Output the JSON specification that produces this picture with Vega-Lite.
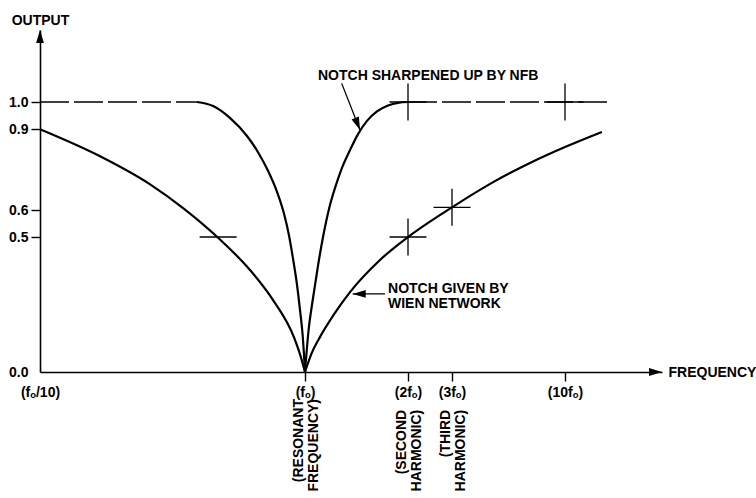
{
  "$schema": "https://vega.github.io/schema/vega-lite/v6.json",
  "width": 622,
  "height": 342,
  "autosize": {"type": "none"},
  "padding": {"left": 40, "top": 30, "right": 94, "bottom": 126},
  "background": "white",
  "config": {
    "view": {"stroke": null},
    "font": "Liberation Sans",
    "axis": {
      "grid": false,
      "domainColor": "black",
      "domainWidth": 1.6,
      "tickColor": "black",
      "tickWidth": 1.4,
      "tickSize": 9,
      "labelColor": "black",
      "labelFont": "Liberation Sans",
      "labelFontSize": 14,
      "labelFontWeight": "bold",
      "titleColor": "black",
      "titleFont": "Liberation Sans",
      "titleFontSize": 14,
      "titleFontWeight": "bold"
    }
  },
  "datasets": {
    "curves": [
      {"curve": "wien", "branch": "wl", "freq": 0.1, "output": 0.899},
      {"curve": "wien", "branch": "wl", "freq": 0.304, "output": 0.799},
      {"curve": "wien", "branch": "wl", "freq": 0.474, "output": 0.695},
      {"curve": "wien", "branch": "wl", "freq": 0.586, "output": 0.607},
      {"curve": "wien", "branch": "wl", "freq": 0.705, "output": 0.497},
      {"curve": "wien", "branch": "wl", "freq": 0.813, "output": 0.378},
      {"curve": "wien", "branch": "wl", "freq": 0.891, "output": 0.267},
      {"curve": "wien", "branch": "wl", "freq": 0.963, "output": 0.127},
      {"curve": "wien", "branch": "wl", "freq": 0.986, "output": 0.055},
      {"curve": "wien", "branch": "wl", "freq": 1.0, "output": 0.0},
      {"curve": "wien", "branch": "wr", "freq": 1.0, "output": 0.0},
      {"curve": "wien", "branch": "wr", "freq": 1.065, "output": 0.07},
      {"curve": "wien", "branch": "wr", "freq": 1.146, "output": 0.13},
      {"curve": "wien", "branch": "wr", "freq": 1.291, "output": 0.219},
      {"curve": "wien", "branch": "wr", "freq": 1.437, "output": 0.296},
      {"curve": "wien", "branch": "wr", "freq": 1.728, "output": 0.415},
      {"curve": "wien", "branch": "wr", "freq": 2.0, "output": 0.5},
      {"curve": "wien", "branch": "wr", "freq": 3.0, "output": 0.61},
      {"curve": "wien", "branch": "wr", "freq": 5.66, "output": 0.707},
      {"curve": "wien", "branch": "wr", "freq": 7.83, "output": 0.774},
      {"curve": "wien", "branch": "wr", "freq": 10.0, "output": 0.833},
      {"curve": "wien", "branch": "wr", "freq": 13.81, "output": 0.889},
      {"curve": "nfb", "branch": "nl", "freq": 0.633, "output": 1.0},
      {"curve": "nfb", "branch": "nl", "freq": 0.688, "output": 0.985},
      {"curve": "nfb", "branch": "nl", "freq": 0.745, "output": 0.941},
      {"curve": "nfb", "branch": "nl", "freq": 0.803, "output": 0.874},
      {"curve": "nfb", "branch": "nl", "freq": 0.84, "output": 0.815},
      {"curve": "nfb", "branch": "nl", "freq": 0.874, "output": 0.746},
      {"curve": "nfb", "branch": "nl", "freq": 0.905, "output": 0.667},
      {"curve": "nfb", "branch": "nl", "freq": 0.929, "output": 0.585},
      {"curve": "nfb", "branch": "nl", "freq": 0.946, "output": 0.504},
      {"curve": "nfb", "branch": "nl", "freq": 0.959, "output": 0.422},
      {"curve": "nfb", "branch": "nl", "freq": 0.973, "output": 0.322},
      {"curve": "nfb", "branch": "nl", "freq": 0.983, "output": 0.23},
      {"curve": "nfb", "branch": "nl", "freq": 0.992, "output": 0.137},
      {"curve": "nfb", "branch": "nl", "freq": 1.0, "output": 0.0},
      {"curve": "nfb", "branch": "nr", "freq": 1.0, "output": 0.0},
      {"curve": "nfb", "branch": "nr", "freq": 1.034, "output": 0.152},
      {"curve": "nfb", "branch": "nr", "freq": 1.078, "output": 0.274},
      {"curve": "nfb", "branch": "nr", "freq": 1.126, "output": 0.393},
      {"curve": "nfb", "branch": "nr", "freq": 1.175, "output": 0.5},
      {"curve": "nfb", "branch": "nr", "freq": 1.233, "output": 0.604},
      {"curve": "nfb", "branch": "nr", "freq": 1.291, "output": 0.681},
      {"curve": "nfb", "branch": "nr", "freq": 1.359, "output": 0.756},
      {"curve": "nfb", "branch": "nr", "freq": 1.437, "output": 0.822},
      {"curve": "nfb", "branch": "nr", "freq": 1.515, "output": 0.881},
      {"curve": "nfb", "branch": "nr", "freq": 1.602, "output": 0.93},
      {"curve": "nfb", "branch": "nr", "freq": 1.699, "output": 0.965},
      {"curve": "nfb", "branch": "nr", "freq": 1.806, "output": 0.987},
      {"curve": "nfb", "branch": "nr", "freq": 1.903, "output": 0.997},
      {"curve": "nfb", "branch": "nr", "freq": 2.0, "output": 1.0}
    ],
    "dashed": [
      {"segment": "a", "freq": 0.1, "output": 1.0},
      {"segment": "a", "freq": 0.633, "output": 1.0},
      {"segment": "b", "freq": 2.0, "output": 1.0},
      {"segment": "b", "freq": 14.85, "output": 1.0}
    ],
    "crosses": [
      {"freq": 2, "output": 0.5},
      {"freq": 3, "output": 0.61},
      {"freq": 2, "output": 1.0},
      {"freq": 10, "output": 1.0}
    ],
    "hmarks": [
      {"freq": 0.705, "output": 0.5}
    ],
    "pointers": [
      {"name": "nfb", "freq": 1.356, "output": 1.069, "freq2": 1.534, "output2": 0.896},
      {"name": "wien", "freq": 1.777, "output": 0.289, "freq2": 1.463, "output2": 0.289}
    ],
    "notes": [
      {"label": "NOTCH SHARPENED UP BY NFB", "freq": 1.126, "output": 1.081},
      {"label": "NOTCH GIVEN BY\nWIEN NETWORK", "freq": 1.806, "output": 0.293}
    ],
    "harmonics": [
      {"label": "(RESONANT\nFREQUENCY)", "freq": 1, "output": -0.1},
      {"label": "(SECOND\nHARMONIC)", "freq": 2, "output": -0.14},
      {"label": "(THIRD\nHARMONIC)", "freq": 3, "output": -0.14}
    ]
  },
  "encoding": {
    "x": {
      "field": "freq",
      "type": "quantitative",
      "scale": {"type": "linear", "domain": [0.1, 1, 2, 3, 10, 20], "range": [0, 265, 368, 412, 525, 622], "nice": false, "zero": false},
      "axis": {
        "values": [0.1, 1, 2, 3, 10],
        "labelExpr": "datum.value == 0.1 ? '(fₒ/10)' : datum.value == 1 ? '(fₒ)' : '(' + datum.value + 'fₒ)'",
        "labelFlush": false,
        "labelOverlap": false,
        "labelPadding": 4,
        "tickOpacity": {"condition": {"test": "datum.value == 0.1", "value": 0}, "value": 1},
        "title": "FREQUENCY",
        "titleAngle": 0,
        "titleAlign": "left",
        "titleBaseline": "middle",
        "titleX": 628,
        "titleY": 0
      }
    },
    "y": {
      "field": "output",
      "type": "quantitative",
      "scale": {"domain": [0, 1.2667], "nice": false, "zero": false},
      "axis": {
        "values": [0, 0.5, 0.6, 0.9, 1.0],
        "format": ".1f",
        "labelOverlap": false,
        "labelPadding": 3,
        "tickOpacity": {"condition": {"test": "datum.value == 0", "value": 0}, "value": 1},
        "title": "OUTPUT",
        "titleAngle": 0,
        "titleAlign": "center",
        "titleBaseline": "alphabetic",
        "titleX": 0,
        "titleY": -6
      }
    }
  },
  "layer": [
    {
      "data": {"name": "dashed"},
      "mark": {"type": "line", "color": "black", "strokeWidth": 1.3, "strokeDash": [29, 5]},
      "encoding": {"detail": {"field": "segment"}}
    },
    {
      "data": {"name": "curves"},
      "mark": {"type": "line", "color": "black", "strokeWidth": 2.2, "interpolate": "monotone"},
      "encoding": {"detail": {"field": "branch"}}
    },
    {
      "data": {"name": "crosses"},
      "mark": {"type": "point", "shape": "M-1,0L1,0M0,-1L0,1", "filled": false, "stroke": "black", "strokeWidth": 1.3, "size": 1369, "opacity": 1}
    },
    {
      "data": {"name": "hmarks"},
      "mark": {"type": "point", "shape": "M-1,0L1,0", "filled": false, "stroke": "black", "strokeWidth": 1.3, "size": 1369, "opacity": 1}
    },
    {
      "data": {"name": "pointers"},
      "mark": {"type": "rule", "color": "black", "strokeWidth": 1.3},
      "encoding": {"x2": {"field": "freq2"}, "y2": {"field": "output2"}}
    },
    {
      "data": {"values": [{"freq": 1.534, "output": 0.896}]},
      "mark": {"type": "point", "shape": "M0,0L0.6,2L-0.6,2Z", "filled": true, "color": "black", "size": 169, "angle": 158.6, "opacity": 1}
    },
    {
      "data": {"values": [{"freq": 1.463, "output": 0.289}]},
      "mark": {"type": "point", "shape": "M0,0L0.6,2L-0.6,2Z", "filled": true, "color": "black", "size": 169, "angle": 270, "opacity": 1}
    },
    {
      "data": {"values": [{"freq": 0.1, "output": 1.2667}]},
      "mark": {"type": "point", "shape": "M0,0L0.6,2L-0.6,2Z", "filled": true, "color": "black", "size": 169, "angle": 0, "opacity": 1}
    },
    {
      "data": {"values": [{"freq": 20, "output": 0}]},
      "mark": {"type": "point", "shape": "M0,0L0.6,2L-0.6,2Z", "filled": true, "color": "black", "size": 169, "angle": 90, "opacity": 1}
    },
    {
      "data": {"name": "notes"},
      "mark": {"type": "text", "align": "left", "baseline": "alphabetic", "font": "Liberation Sans", "fontSize": 14, "fontWeight": "bold", "color": "black", "lineBreak": "\n", "lineHeight": 15},
      "encoding": {"text": {"field": "label"}}
    },
    {
      "data": {"name": "harmonics"},
      "mark": {"type": "text", "align": "right", "baseline": "middle", "angle": 270, "dy": -6, "font": "Liberation Sans", "fontSize": 14, "fontWeight": "bold", "color": "black", "lineBreak": "\n", "lineHeight": 15},
      "encoding": {"text": {"field": "label"}}
    }
  ]
}
